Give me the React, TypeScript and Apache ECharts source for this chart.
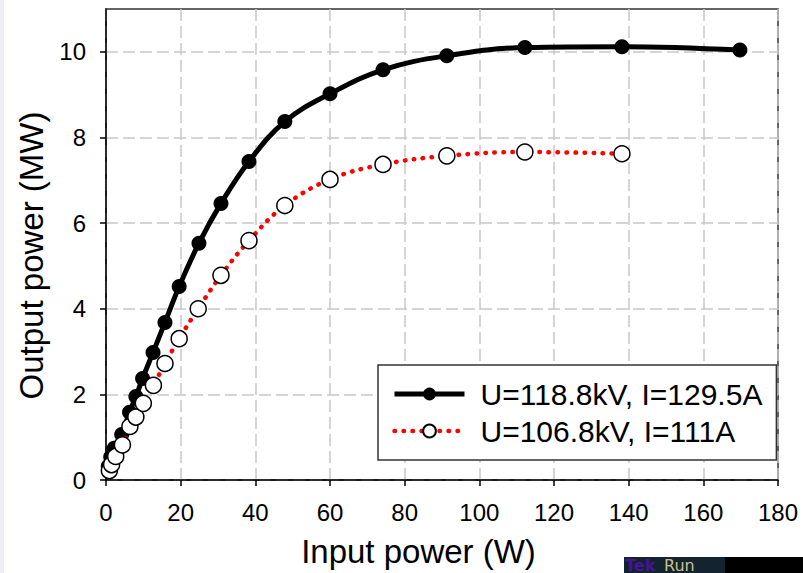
import React, { useEffect, useRef } from "react";
import * as echarts from "echarts";

const seriesNames = ["U=118.8kV, I=129.5A", "U=106.8kV, I=111A"];

const highX = [0.6, 1.26, 2.2, 4.2, 6.3, 8.0, 9.8, 12.6, 15.8, 19.6, 24.9, 30.8, 38.3, 47.9, 60.0, 74.2, 91.3, 112.2, 138.2, 169.8];
const highY = [0.32, 0.54, 0.74, 1.06, 1.58, 1.95, 2.37, 2.98, 3.68, 4.52, 5.53, 6.46, 7.44, 8.37, 9.02, 9.58, 9.91, 10.1, 10.12, 10.04];

const lowX = [0.9, 1.5, 2.6, 4.4, 6.4, 8.0, 10.0, 12.7, 15.8, 19.6, 24.7, 30.8, 38.3, 47.9, 60.0, 74.2, 91.3, 112.2, 138.2];
const lowY = [0.22, 0.36, 0.55, 0.82, 1.25, 1.47, 1.79, 2.21, 2.72, 3.3, 4.0, 4.78, 5.59, 6.41, 7.02, 7.37, 7.57, 7.66, 7.62];

const xTicks = [0, 20, 40, 60, 80, 100, 120, 140, 160, 180];
const yTicks = [0, 2, 4, 6, 8, 10];

const FONT = "'Liberation Sans', Arial, Helvetica, sans-serif";

export default function App() {
  const ref = useRef<HTMLDivElement>(null);
  useEffect(() => {
    if (!ref.current) return;
    const chart = echarts.init(ref.current, null, { renderer: "svg" });
    const gridColor = "#c8c8c8";
    chart.setOption({
      animation: false,
      backgroundColor: "#ffffff",
      textStyle: { fontFamily: FONT, color: "#000" },
      grid: {
        left: 106,
        top: 9,
        right: 25,
        bottom: 92,
        show: true,
        borderColor: "#333",
        borderWidth: 1.5,
        backgroundColor: "transparent",
      },
      legend: {
        orient: "vertical",
        left: 378,
        top: 365,
        padding: [14, 14, 14, 14],
        itemWidth: 70,
        itemHeight: 16,
        itemGap: 7,
        backgroundColor: "#fff",
        borderColor: "#333",
        borderWidth: 1.5,
        borderRadius: 0,
        textStyle: { fontSize: 30, fontFamily: FONT, color: "#000", lineHeight: 30, padding: [0, 0, 0, 11] },
        data: [
          { name: seriesNames[0], lineStyle: { width: 5, color: "#000" } },
          { name: seriesNames[1], lineStyle: { width: 4.5, color: "#ff0000", type: [0.5, 8.5], cap: "round" } },
        ],
      },
      xAxis: {
        type: "value",
        min: 0,
        max: 180,
        interval: 20,
        name: "Input power (W)",
        nameLocation: "middle",
        nameGap: 55,
        nameTextStyle: { fontSize: 33, fontFamily: FONT, color: "#000", padding: [0, 47, 0, 0] },
        axisLine: { show: true, onZero: false, lineStyle: { color: "#000", width: 1.5 } },
        axisTick: { show: true, inside: false, length: 6, lineStyle: { color: "#000", width: 1.5 }, customValues: xTicks },
        axisLabel: { fontSize: 24, margin: 20, color: "#000", fontFamily: FONT, customValues: xTicks },
        splitLine: { show: true, lineStyle: { color: gridColor, width: 1.5, type: [12, 5] } },
      },
      yAxis: {
        type: "value",
        min: 0,
        max: 11,
        interval: 2,
        name: "Output power (MW)",
        nameLocation: "middle",
        nameRotate: 90,
        nameGap: 58,
        nameTextStyle: { fontSize: 33, fontFamily: FONT, color: "#000", padding: [0, 22, 0, 0] },
        axisLine: { show: true, onZero: false, lineStyle: { color: "#000", width: 1.5 } },
        axisTick: { show: true, inside: false, length: 6, lineStyle: { color: "#000", width: 1.5 }, customValues: yTicks },
        axisLabel: { fontSize: 24, margin: 20, color: "#000", fontFamily: FONT, customValues: yTicks },
        splitLine: { show: true, lineStyle: { color: gridColor, width: 1.5, type: [12, 5] } },
      },
      series: [
        {
          name: seriesNames[0],
          type: "line",
          smooth: 0.4,
          data: highX.map((x, i) => [x, highY[i]]),
          symbol: "circle",
          symbolSize: 15,
          itemStyle: { color: "#000", borderColor: "#000", borderWidth: 0 },
          lineStyle: { color: "#000", width: 5 },
          z: 2,
        },
        {
          name: seriesNames[1],
          type: "line",
          smooth: 0.4,
          data: lowX.map((x, i) => [x, lowY[i]]),
          symbol: "circle",
          symbolSize: 16,
          itemStyle: { color: "#fff", borderColor: "#000", borderWidth: 1.5 },
          lineStyle: { color: "#ff0000", width: 4.5, type: [0.5, 8.5], cap: "round" },
          z: 3,
        },
      ],
      graphic: [
        { type: "rect", left: 0, top: 0, shape: { width: 4, height: 573 }, style: { fill: "#eeeef4" }, z: 100 },
        { type: "rect", left: 624, top: 557, shape: { width: 101, height: 16 }, style: { fill: "#13232f" }, z: 100 },
        { type: "rect", left: 725, top: 557, shape: { width: 78, height: 16 }, style: { fill: "#000" }, z: 100 },
        {
          type: "text",
          left: 625,
          top: 557,
          style: { text: "Tek", fill: "#4b1296", font: "bold 16px 'DejaVu Sans', sans-serif" },
          z: 101,
        },
        {
          type: "text",
          left: 664,
          top: 557,
          style: { text: "Run", fill: "#c9c18c", font: "16px 'DejaVu Sans', sans-serif" },
          z: 101,
        },
      ],
    });
    return () => chart.dispose();
  }, []);
  return (
    <div
      ref={ref}
      style={{ position: "absolute", left: 0, top: 0, width: 803, height: 573, background: "#fff", overflow: "hidden" }}
    />
  );
}
